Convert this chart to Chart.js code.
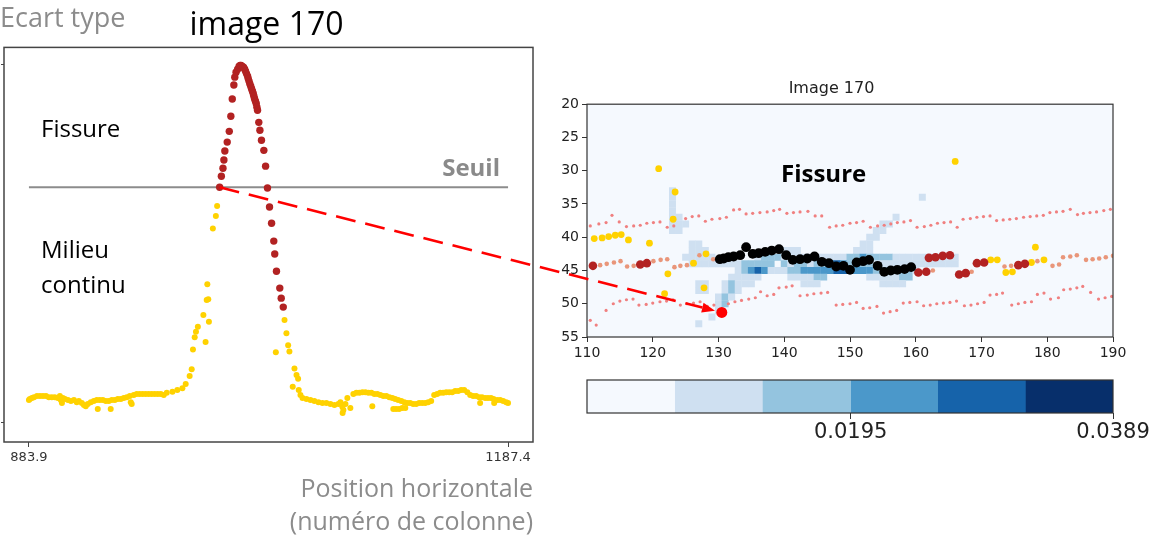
<!DOCTYPE html>
<html>
<head>
<meta charset="utf-8">
<script src="https://cdn.jsdelivr.net/npm/chart.js@4.4.1/dist/chart.umd.min.js"></script>
<style>
body { margin: 0; background: #fff; }
#page { position: relative; width: 1158px; height: 542px; overflow: hidden; font-family: 'Open Sans', sans-serif; }
canvas { position: absolute; }
.lbl { position: absolute; white-space: nowrap; line-height: 1; font-size: 24px; }
</style>
</head>
<body>
<div id="page">
  <canvas id="left" width="560" height="542" style="left:0px;top:0px"></canvas>
  <canvas id="right" width="608" height="300" style="left:550px;top:70px"></canvas>
  <canvas id="cbar" width="608" height="110" style="left:550px;top:360px"></canvas>
  <canvas id="overlay" width="1158" height="542" style="left:0px;top:0px;pointer-events:none"></canvas>

  <div class="lbl" style="left:0px;top:3px;font-size:27px;color:#8c8c8c">Ecart type</div>
  <div class="lbl" style="left:41px;top:116px;color:#000">Fissure</div>
  <div class="lbl" style="left:41px;top:237px;color:#000">Milieu</div>
  <div class="lbl" style="left:41px;top:272px;color:#000">continu</div>
  <div class="lbl" style="right:658px;top:155px;color:#8a8a8a;font-weight:bold">Seuil</div>
  <div class="lbl" style="left:781px;top:161px;color:#000;font-weight:bold">Fissure</div>
</div>

<script>
// ---------- left plot: ecart type per column ----------
const xTicksLeft = [883.9, 1187.4];
const seuil = 0.657;

// below the threshold (yellow)
const yellowPts = [
  [883.9,0.064],[884.5,0.067],[885.8,0.070],[887.1,0.072],[889.0,0.075],[890.9,0.075],[892.8,0.075],[894.7,0.075],
  [896.5,0.072],[898.4,0.072],[900.3,0.072],[902.2,0.070],[903.5,0.075],[904.1,0.064],[904.8,0.056],[905.4,0.070],
  [906.7,0.067],[908.6,0.064],[910.5,0.061],[912.4,0.064],[914.2,0.058],[915.5,0.061],[917.4,0.056],[918.7,0.050],
  [919.9,0.047],[921.2,0.053],[923.1,0.058],[925.0,0.061],[926.9,0.064],[927.5,0.039],[928.8,0.064],[930.7,0.064],
  [932.6,0.061],[934.5,0.061],[935.7,0.039],[936.4,0.064],[938.3,0.064],[940.2,0.067],[942.1,0.067],[944.0,0.070],
  [945.9,0.072],[947.8,0.075],[948.4,0.058],[949.0,0.053],[950.3,0.078],[952.2,0.081],[954.1,0.081],[956.0,0.081],
  [957.9,0.081],[959.8,0.081],[961.7,0.081],[963.6,0.081],[965.5,0.081],[967.4,0.081],[969.3,0.078],[971.2,0.084],
  [974.8,0.087],[977.9,0.092],[981.1,0.097],[983.2,0.109],[985.7,0.131],[987.0,0.150],[987.8,0.205],[988.9,0.239],
  [989.7,0.254],[990.9,0.268],[994.4,0.301],[995.8,0.226],[996.5,0.343],[996.9,0.387],[997.5,0.345],[997.9,0.282],
  [1000.4,0.542],[1002.3,0.577],[1003.1,0.605],
  [1045.8,0.287],[1047.0,0.250],[1048.1,0.217],[1048.9,0.199],[1040.3,0.197],[1052.1,0.152],[1053.4,0.134],
  [1054.4,0.123],[1051.0,0.101],[1054.8,0.092],[1055.9,0.078],[1057.2,0.070],[1059.7,0.067],[1062.2,0.064],
  [1064.7,0.061],[1067.3,0.058],[1069.8,0.056],[1072.3,0.056],[1074.9,0.053],[1077.4,0.050],[1079.9,0.053],
  [1081.2,0.058],[1082.4,0.045],[1083.1,0.036],[1082.6,0.028],[1084.4,0.053],[1085.6,0.070],[1087.5,0.042],
  [1089.4,0.081],[1091.3,0.084],[1093.2,0.084],[1095.1,0.086],[1097.0,0.086],[1098.9,0.084],[1100.8,0.084],
  [1101.4,0.047],[1102.7,0.081],[1104.6,0.081],[1106.5,0.078],[1108.4,0.075],[1110.3,0.075],[1112.2,0.072],
  [1114.1,0.070],[1114.7,0.039],[1115.9,0.067],[1116.5,0.039],[1117.8,0.064],[1118.4,0.039],[1119.8,0.061],
  [1120.4,0.042],[1121.7,0.058],[1122.3,0.042],[1123.6,0.056],[1125.4,0.056],[1127.3,0.053],[1129.2,0.053],
  [1131.1,0.056],[1133.0,0.056],[1134.9,0.056],[1136.8,0.058],[1138.7,0.061],[1140.6,0.078],[1142.5,0.081],
  [1144.4,0.084],[1146.3,0.084],[1148.2,0.086],[1150.1,0.086],[1152.0,0.086],[1153.9,0.089],[1155.8,0.089],
  [1157.7,0.092],[1159.6,0.092],[1161.6,0.086],[1163.4,0.078],[1165.3,0.075],[1167.2,0.075],[1169.1,0.072],
  [1169.7,0.056],[1170.9,0.072],[1172.9,0.070],[1174.7,0.070],[1176.6,0.070],[1178.6,0.056],[1178.2,0.067],
  [1180.5,0.064],[1182.4,0.064],[1184.3,0.061],[1186.2,0.058],[1187.4,0.056]
];

// classified as crack (dark red)
const redPts = [
  [1004.7,0.657],[1005.8,0.688],[1006.8,0.710],[1007.4,0.733],[1008.0,0.758],[1009.5,0.783],[1010.8,0.813],
  [1011.8,0.855],[1012.7,0.903],[1013.7,0.942],[1014.3,0.964],[1015.1,0.978],[1016.1,0.986],[1017.0,0.994],
  [1017.6,0.997],[1018.3,0.997],[1019.0,0.994],[1019.8,0.992],[1020.5,0.987],[1021.1,0.981],[1021.7,0.974],
  [1022.4,0.967],[1022.8,0.960],[1023.3,0.953],[1023.8,0.946],[1024.4,0.939],[1024.9,0.932],[1025.5,0.925],
  [1026.0,0.918],[1026.4,0.911],[1026.8,0.904],[1027.4,0.897],[1027.9,0.890],[1028.3,0.880],[1028.7,0.872],
  [1029.5,0.838],[1030.2,0.816],[1031.2,0.788],[1032.7,0.760],[1033.8,0.716],[1035.0,0.655],[1036.3,0.602],
  [1037.6,0.557],[1039.0,0.507],[1039.6,0.471],[1040.7,0.423],[1042.8,0.376],[1043.7,0.348],[1045.0,0.323]
];

// ---------- right plot: image 170 ----------
const blues = ['#f5f9fe', '#cfe0f1', '#94c4df', '#4b98ca', '#1663aa', '#072f6b'];
const cbEdges = [0, 0.00648, 0.01297, 0.0195, 0.02593, 0.03242, 0.0389];
const cbTicks = [0.0195, 0.0389];

// [column, row, value]
const heatCells = [
  [123,33,0.009],
  [123,34,0.009],[161,34,0.009],
  [123,35,0.009],
  [123,36,0.009],
  [123,37,0.009],[124,37,0.009],[157,37,0.009],
  [123,38,0.009],[124,38,0.009],[125,38,0.009],[155,38,0.009],[156,38,0.009],
  [123,39,0.009],[124,39,0.009],[154,39,0.009],[155,39,0.009],
  [153,40,0.009],[154,40,0.009],
  [126,41,0.009],[127,41,0.009],[152,41,0.009],[153,41,0.009],
  [126,42,0.009],[127,42,0.009],[128,42,0.009],[140,42,0.009],[141,42,0.009],[142,42,0.009],[151,42,0.009],
  [152,42,0.009],[153,42,0.009],
  [125,43,0.009],[126,43,0.009],[127,43,0.009],[128,43,0.009],[129,43,0.009],[136,43,0.009],[137,43,0.016],
  [138,43,0.016],[139,43,0.016],[140,43,0.009],[141,43,0.009],[142,43,0.009],[143,43,0.009],[144,43,0.009],
  [145,43,0.009],[146,43,0.009],[147,43,0.009],[148,43,0.009],[149,43,0.009],[150,43,0.016],[151,43,0.016],
  [152,43,0.022],[153,43,0.016],[154,43,0.016],[155,43,0.016],[156,43,0.016],[157,43,0.009],[158,43,0.009],
  [159,43,0.009],[160,43,0.009],[161,43,0.009],[162,43,0.009],[163,43,0.009],[164,43,0.009],[165,43,0.009],
  [166,43,0.009],
  [126,44,0.009],[127,44,0.009],[128,44,0.009],[129,44,0.009],[130,44,0.009],[131,44,0.009],[132,44,0.009],
  [133,44,0.009],[134,44,0.016],[135,44,0.016],[136,44,0.016],[137,44,0.016],[138,44,0.016],[140,44,0.016],
  [141,44,0.009],[142,44,0.016],[143,44,0.016],[144,44,0.009],[145,44,0.016],[146,44,0.016],[147,44,0.022],
  [148,44,0.029],[149,44,0.022],[150,44,0.016],[151,44,0.022],[152,44,0.016],[153,44,0.016],[154,44,0.009],
  [155,44,0.009],[156,44,0.009],[157,44,0.009],[158,44,0.009],[159,44,0.009],[160,44,0.009],[161,44,0.009],
  [162,44,0.009],[163,44,0.009],[164,44,0.009],[165,44,0.009],[166,44,0.009],
  [133,45,0.009],[134,45,0.016],[135,45,0.022],[136,45,0.029],[137,45,0.022],[138,45,0.009],[139,45,0.009],
  [140,45,0.009],[141,45,0.016],[142,45,0.016],[143,45,0.022],[144,45,0.022],[145,45,0.022],[146,45,0.022],
  [147,45,0.022],[148,45,0.029],[149,45,0.029],[150,45,0.036],[151,45,0.022],[152,45,0.022],[153,45,0.022],
  [154,45,0.016],[155,45,0.016],[156,45,0.016],[157,45,0.016],[158,45,0.016],[159,45,0.016],[160,45,0.009],
  [132,46,0.009],[133,46,0.009],[134,46,0.009],[135,46,0.009],[136,46,0.009],[141,46,0.009],[142,46,0.009],
  [143,46,0.009],[144,46,0.009],[145,46,0.016],[146,46,0.016],[153,46,0.009],[154,46,0.009],[155,46,0.009],
  [156,46,0.009],[157,46,0.009],[158,46,0.016],[159,46,0.016],
  [127,47,0.009],[128,47,0.009],[131,47,0.009],[132,47,0.016],[133,47,0.009],[134,47,0.009],[135,47,0.009],
  [143,47,0.009],[144,47,0.009],[145,47,0.009],[155,47,0.009],[156,47,0.009],[157,47,0.009],[158,47,0.009],
  [127,48,0.009],[128,48,0.009],[131,48,0.009],[132,48,0.016],[133,48,0.009],
  [130,49,0.009],[131,49,0.016],[132,49,0.009],
  [130,50,0.009],[131,50,0.016],
  [130,51,0.009],
  [129,52,0.009],
  [127,53,0.009]
];

const upperDots = [
  [110.5,38.3],[111.8,38.0],[112.9,37.8],[113.8,36.7],[114.9,37.7],[116.0,38.4],[117.1,38.3],[118.1,38.2],
  [119.1,37.9],[120.1,37.8],[121.1,37.7],[122.2,38.5],[123.2,38.3],[125.0,37.2],[126.0,36.9],[127.0,36.8],
  [128.0,37.6],[129.0,37.3],[130.2,37.2],[131.2,37.0],[132.3,35.9],[133.2,35.8],[134.2,36.5],[135.2,36.4],
  [136.3,36.3],[137.4,36.2],[138.4,36.0],[139.3,35.8],[140.4,36.4],[141.4,36.3],[142.4,36.2],[143.6,36.1],
  [144.7,36.8],[145.7,36.8],[146.9,38.5],[147.9,38.3],[148.9,38.2],[150.0,37.9],[151.0,37.8],[152.0,37.6],
  [153.1,38.5],[154.2,38.3],[155.2,38.2],[156.2,38.0],[157.2,37.8],[158.2,37.7],[159.2,37.5],[160.2,38.5],
  [161.3,38.4],[162.3,38.2],[163.3,37.9],[164.3,37.8],[165.3,37.7],[166.3,38.5],[167.2,37.3],[168.3,37.2],
  [169.3,37.0],[170.3,36.9],[171.3,36.8],[172.3,37.5],[173.3,37.4],[174.3,37.3],[175.3,37.2],[176.4,37.0],
  [177.4,36.9],[178.4,36.8],[179.4,36.7],[180.4,36.3],[181.4,36.2],[182.4,36.1],[183.5,35.8],[184.6,36.6],
  [185.5,36.4],[186.5,36.3],[187.5,36.2],[188.6,36.0],[189.6,35.8]
];

const middleDots = [
  [112.0,44.2],[113.0,44.0],[114.1,43.8],[115.1,43.6],[116.1,44.4],[117.1,44.3],[120.1,43.6],[121.2,43.4],
  [122.2,43.3],[123.3,44.5],[124.2,44.3],[125.2,44.2],[127.1,42.7],[129.2,43.3],[162.6,45.0],[168.5,45.2],
  [173.5,44.4],[174.5,44.3],[178.5,43.6],[180.8,44.3],[181.8,44.1],[182.4,43.0],[183.5,42.9],[184.5,42.7],
  [185.9,43.4],[186.9,43.3],[187.9,43.2],[188.9,43.0],[190.0,42.8]
];

const lowerDots = [
  [110.5,52.5],[111.4,53.2],[112.9,51.0],[114.0,50.0],[115.0,49.6],[116.0,49.4],[117.0,49.3],[117.9,50.2],
  [119.0,50.1],[120.0,49.9],[121.1,49.7],[122.1,49.6],[123.1,49.4],[124.2,50.2],[125.2,50.0],[126.2,49.9],
  [127.2,49.7],[128.3,50.4],[129.3,50.2],[131.5,50.0],[132.5,49.7],[133.5,49.5],[134.6,49.3],[135.6,49.1],
  [136.4,48.2],[137.4,48.8],[138.4,48.6],[139.2,47.6],[140.3,47.5],[141.2,47.3],[142.4,48.8],[143.5,48.7],
  [144.5,48.5],[145.6,48.4],[146.6,48.3],[147.9,50.2],[148.9,50.1],[150.0,50.0],[151.0,49.8],[152.0,50.7],
  [153.0,50.6],[154.1,50.4],[155.1,51.4],[156.1,51.2],[157.1,51.0],[158.1,49.9],[159.1,49.8],[160.2,49.7],
  [161.2,50.3],[162.2,50.2],[163.2,50.0],[164.2,49.9],[165.2,49.8],[166.2,49.6],[167.4,50.3],[168.4,50.2],
  [169.4,50.0],[170.4,49.8],[171.3,48.7],[172.3,48.6],[173.2,48.4],[174.6,50.2],[175.6,50.0],[176.6,49.8],
  [177.6,49.7],[178.5,48.6],[179.5,48.4],[180.5,49.3],[181.7,49.1],[182.5,47.9],[183.5,47.8],[184.5,47.6],
  [185.4,47.4],[186.6,48.3],[187.8,49.3],[188.8,49.1],[189.8,48.9]
];

const yellowDots = [
  [120.9,29.7],[123.4,33.2],[123.1,37.3],[111.1,40.2],[112.3,40.1],[113.3,39.9],[114.3,39.7],[115.2,39.6],
  [116.3,40.4],[119.5,40.9],[128.1,42.5],[126.2,43.9],[122.3,45.5],[127.8,47.6],[121.8,48.5],[166.0,28.6],
  [178.2,41.5],[171.4,43.4],[172.4,43.4],[177.6,43.8],[179.5,43.4],[173.7,45.3],[174.7,45.2]
];

const darkRedDots = [
  [110.9,44.3],[118.1,44.1],[119.1,43.9],[160.4,45.3],[161.6,45.2],[162.0,43.1],[163.0,43.0],[164.1,42.8],
  [165.2,42.7],[166.6,45.6],[167.6,45.4],[169.3,43.9],[170.4,43.8],[175.6,44.2],[176.6,44.0]
];

const crackDots = [
  [130.2,43.3],[130.8,43.2],[131.5,43.0],[132.3,42.9],[133.3,42.7],[134.2,41.5],[135.2,42.5],[136.1,42.4],
  [137.1,42.2],[138.1,42.0],[139.2,41.8],[140.3,42.7],[141.3,43.4],[142.4,43.3],[143.5,43.2],[144.6,42.9],
  [145.7,43.7],[146.8,43.9],[147.9,44.4],[149.0,44.3],[150.0,44.9],[151.0,43.8],[152.0,43.6],[152.9,43.4],
  [154.2,44.3],[155.2,45.2],[156.2,45.0],[157.2,44.9],[158.3,44.8],[159.3,44.5]
];

const startDot = [[130.5,51.3]];

// ---------- helpers ----------
const toXY = arr => arr.map(p => ({x: p[0], y: p[1]}));
const binColor = v => blues[Math.min(blues.length - 1, Math.floor(v / (cbEdges[cbEdges.length - 1] / 6)))];

const framePlugin = {
  id: 'frame',
  beforeDatasetsDraw(chart, args, opts) {
    if (!opts.fill) return;
    const a = chart.chartArea, c = chart.ctx;
    c.save();
    c.fillStyle = opts.fill;
    c.fillRect(a.left, a.top, a.width, a.height);
    c.restore();
  },
  afterDatasetsDraw(chart, args, opts) {
    const a = chart.chartArea, c = chart.ctx;
    c.save();
    c.strokeStyle = opts.color || '#333';
    c.lineWidth = opts.width || 1;
    c.strokeRect(a.left, a.top, a.width, a.height);
    c.restore();
  }
};

Chart.defaults.animation = false;
Chart.defaults.responsive = false;
Chart.defaults.events = [];
Chart.defaults.font.family = 'DejaVu Sans';
Chart.defaults.color = '#333';
Chart.defaults.plugins.legend.display = false;
Chart.defaults.plugins.tooltip.enabled = false;

// ---------- left chart ----------
const leftChart = new Chart(document.getElementById('left'), {
  type: 'scatter',
  plugins: [framePlugin],
  data: {
    datasets: [
      { data: toXY(redPts), backgroundColor: '#b22222', pointRadius: 3.7, borderWidth: 0 },
      { data: toXY(yellowPts), backgroundColor: '#ffd200', pointRadius: 3, borderWidth: 0 },
      { data: [{x: xTicksLeft[0], y: seuil}, {x: xTicksLeft[1], y: seuil}], showLine: true,
        borderColor: '#8c8c8c', borderWidth: 2, pointRadius: 0 }
    ]
  },
  options: {
    layout: { padding: { left: 0, right: 27, top: 7, bottom: 0 } },
    plugins: {
      frame: { color: '#444', width: 1.5 },
      title: { display: true, text: 'image 170', color: '#000',
        font: { family: 'Open Sans', size: 32, weight: 'normal' }, padding: { top: 0, bottom: 2 } }
    },
    scales: {
      x: {
        type: 'linear', min: 868.1, max: 1203.2,
        afterBuildTicks: s => { s.ticks = xTicksLeft.map(v => ({value: v})); },
        afterFit: s => { s.height = 100; },
        ticks: { callback: v => v.toFixed(1), font: { size: 13 }, color: '#333', padding: 3, maxRotation: 0, autoSkip: false },
        grid: { drawOnChartArea: false, tickLength: 5, color: '#444' },
        border: { display: false },
        title: { display: true, align: 'end', text: ['Position horizontale', '(numéro de colonne)'],
          color: '#8c8c8c', font: { family: 'Open Sans', size: 25, lineHeight: 1.3 }, padding: { top: 0, bottom: 3 } }
      },
      y: {
        min: -0.053, max: 1.047,
        afterBuildTicks: s => { s.ticks = [{value: 0}, {value: 1}]; },
        afterFit: s => { s.width = 3; },
        ticks: { display: false },
        grid: { drawOnChartArea: false, tickLength: 3, color: '#444' },
        border: { display: false }
      }
    }
  }
});

// ---------- right chart ----------
const rightChart = new Chart(document.getElementById('right'), {
  type: 'scatter',
  plugins: [framePlugin],
  data: {
    datasets: [
      { data: toXY(startDot), backgroundColor: '#ff0000', pointRadius: 5.5, borderWidth: 0 },
      { data: toXY(crackDots), backgroundColor: '#000000', pointRadius: 4.9, borderWidth: 0 },
      { data: toXY(darkRedDots), backgroundColor: '#b22222', pointRadius: 4.3, borderWidth: 0 },
      { data: toXY(yellowDots), backgroundColor: '#ffd200', pointRadius: 3.4, borderWidth: 0 },
      { data: toXY(middleDots), backgroundColor: '#e9967a', pointRadius: 2.3, borderWidth: 0 },
      { data: toXY(upperDots.concat(lowerDots)), backgroundColor: '#f08080', pointRadius: 1.6, borderWidth: 0 },
      {
        data: heatCells.map(c => ({x: c[0], y: c[1], v: c[2]})),
        pointStyle: 'rect',
        pointRadius: ctx => {
          const sx = ctx.chart.scales.x;
          return (Math.abs(sx.getPixelForValue(1) - sx.getPixelForValue(0)) + 0.4) / Math.SQRT2;
        },
        backgroundColor: ctx => binColor(ctx.raw ? ctx.raw.v : 0),
        borderWidth: 0
      }
    ]
  },
  options: {
    layout: { padding: { left: 0, right: 45, top: 9, bottom: 0 } },
    plugins: {
      frame: { color: '#333', width: 1.2, fill: blues[0] },
      title: { display: true, text: 'Image 170', color: '#222',
        font: { size: 16, weight: 'normal' }, padding: { top: 0, bottom: 6 } }
    },
    scales: {
      x: {
        type: 'linear', min: 110, max: 190,
        afterFit: s => { s.height = 33; },
        ticks: { stepSize: 10, font: { size: 14 }, color: '#222', padding: 3, maxRotation: 0 },
        grid: { drawOnChartArea: false, tickLength: 5, color: '#333' },
        border: { display: false }
      },
      y: {
        min: 20, max: 55, reverse: true,
        afterFit: s => { s.width = 37; },
        ticks: { stepSize: 5, font: { size: 14 }, color: '#222', padding: 3 },
        grid: { drawOnChartArea: false, tickLength: 5, color: '#333' },
        border: { display: false }
      }
    }
  }
});

// ---------- colour bar ----------
new Chart(document.getElementById('cbar'), {
  type: 'bar',
  plugins: [framePlugin],
  data: {
    labels: ['cb'],
    datasets: blues.map((col, i) => ({
      data: [[cbEdges[i], cbEdges[i + 1]]],
      backgroundColor: col, borderWidth: 0,
      barPercentage: 1, categoryPercentage: 1, grouped: false
    }))
  },
  options: {
    indexAxis: 'y',
    layout: { padding: { left: 37, right: 45, top: 20, bottom: 0 } },
    plugins: { frame: { color: '#333', width: 1.2 } },
    scales: {
      x: {
        type: 'linear', min: cbEdges[0], max: cbEdges[cbEdges.length - 1],
        afterBuildTicks: s => { s.ticks = cbTicks.map(v => ({value: v})); },
        afterFit: s => { s.height = 57; },
        ticks: { callback: v => v.toFixed(4), font: { size: 21 }, color: '#222', padding: 1, maxRotation: 0, autoSkip: false },
        grid: { drawOnChartArea: false, tickLength: 6, color: '#333' },
        border: { display: false }
      },
      y: { display: false }
    }
  }
});

// ---------- dashed arrow from the threshold crossing to the start point ----------
function drawArrow() {
  const lc = document.getElementById('left'), rc = document.getElementById('right');
  const x0 = lc.offsetLeft + leftChart.scales.x.getPixelForValue(redPts[0][0]);
  const y0 = lc.offsetTop + leftChart.scales.y.getPixelForValue(redPts[0][1]);
  const cx = rc.offsetLeft + rightChart.scales.x.getPixelForValue(startDot[0][0]);
  const cy = rc.offsetTop + rightChart.scales.y.getPixelForValue(startDot[0][1]);
  const dx = cx - x0, dy = cy - y0, len = Math.hypot(dx, dy);
  const ux = dx / len, uy = dy / len;
  const tipX = cx - ux * 7, tipY = cy - uy * 7;
  const head = 13, half = 5;
  const ctx = document.getElementById('overlay').getContext('2d');
  ctx.save();
  ctx.strokeStyle = '#ff0000';
  ctx.lineWidth = 2.6;
  ctx.setLineDash([20, 10]);
  ctx.beginPath();
  ctx.moveTo(x0, y0);
  ctx.lineTo(tipX - ux * head, tipY - uy * head);
  ctx.stroke();
  ctx.setLineDash([]);
  ctx.fillStyle = '#ff0000';
  ctx.beginPath();
  ctx.moveTo(tipX, tipY);
  ctx.lineTo(tipX - ux * head - uy * half, tipY - uy * head + ux * half);
  ctx.lineTo(tipX - ux * head + uy * half, tipY - uy * head - ux * half);
  ctx.closePath();
  ctx.fill();
  ctx.restore();
}
drawArrow();
</script>
</body>
</html>
